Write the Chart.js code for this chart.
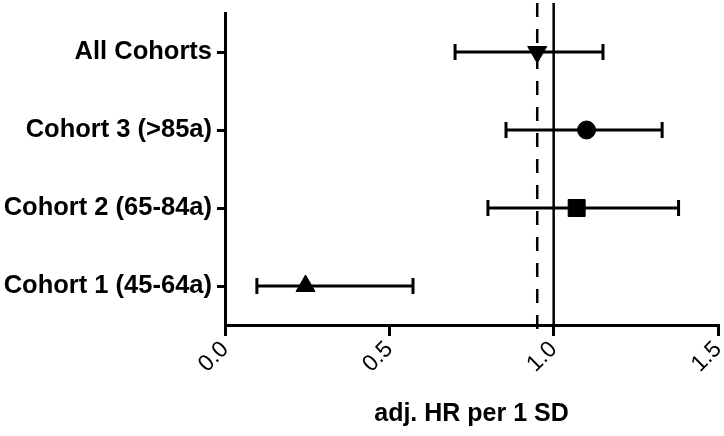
<!DOCTYPE html>
<html>
<head>
<meta charset="utf-8">
<script src="https://cdn.jsdelivr.net/npm/chart.js@4/dist/chart.umd.min.js"></script>
<style>
  html, body { margin: 0; padding: 0; background: #fff; }
  #wrap { width: 724px; height: 436px; position: relative; }
</style>
</head>
<body>
<div id="wrap"><canvas id="c" width="724" height="436"></canvas></div>
<script>
// Categories, top to bottom
const categories = ['All Cohorts', 'Cohort 3 (>85a)', 'Cohort 2 (65-84a)', 'Cohort 1 (45-64a)'];
// Hazard ratio point estimates and 95% CI bounds
const hrEstimate = [0.95, 1.10, 1.07, 0.245];
const ciLower    = [0.70, 0.855, 0.80, 0.097];
const ciUpper    = [1.15, 1.33, 1.38, 0.572];
const markerStyles = ['triangle', 'circle', 'rect', 'triangle'];
const markerRotation = [180, 0, 0, 0];
const xTicks = [0, 0.5, 1.0, 1.5];
const referenceLines = [{ value: 1.0, dashed: false }, { value: 0.95, dashed: true }];
const xTitle = 'adj. HR per 1 SD';

const yPos = categories.map((_, i) => categories.length - 1 - i);

const errorSets = categories.map((c, i) => ({
  type: 'line',
  data: [{ x: ciLower[i], y: yPos[i] }, { x: ciUpper[i], y: yPos[i] }],
  borderColor: '#000',
  borderWidth: 3,
  pointStyle: 'line',
  rotation: 90,
  pointRadius: 8,
  pointBorderWidth: 3,
  pointBorderColor: '#000',
  fill: false,
  clip: false,
  order: 2
}));

const markerSet = {
  type: 'scatter',
  data: categories.map((c, i) => ({ x: hrEstimate[i], y: yPos[i] })),
  pointStyle: markerStyles,
  rotation: markerRotation,
  pointRadius: [11, 9, 12, 11],
  backgroundColor: '#000',
  borderColor: '#000',
  borderWidth: 1,
  clip: false,
  order: 1
};

const refLinePlugin = {
  id: 'refLines',
  beforeDatasetsDraw(chart) {
    const ctx = chart.ctx;
    const xs = chart.scales.x;
    const area = chart.chartArea;
    ctx.save();
    ctx.strokeStyle = '#000';
    ctx.lineWidth = 2.5;
    referenceLines.forEach(r => {
      const px = xs.getPixelForValue(r.value);
      ctx.setLineDash(r.dashed ? [14, 12] : []);
      ctx.beginPath();
      ctx.moveTo(px, area.top - 10);
      ctx.lineTo(px, r.dashed ? area.bottom + 6 : area.bottom);
      ctx.stroke();
    });
    ctx.restore();
  }
};

const FONT = 'Liberation Sans, Arial, sans-serif';

new Chart(document.getElementById('c'), {
  data: { datasets: [markerSet, ...errorSets] },
  options: {
    responsive: false,
    animation: false,
    events: [],
    layout: { autoPadding: false, padding: { left: 0, right: 6, top: 13, bottom: 0 } },
    plugins: { legend: { display: false }, tooltip: { enabled: false } },
    scales: {
      x: {
        type: 'linear',
        min: 0,
        max: 1.5,
        afterBuildTicks: s => { s.ticks = xTicks.map(v => ({ value: v })); },
        afterFit: s => { s.height = 111; s.paddingLeft = 0; s.paddingRight = 0; },
        border: { color: '#000', width: 3 },
        grid: { drawOnChartArea: false, drawTicks: true, tickLength: 11, color: '#000', lineWidth: 3 },
        ticks: {
          autoSkip: false,
          minRotation: 45,
          maxRotation: 45,
          padding: 0,
          color: '#000',
          font: { family: FONT, size: 23 },
          callback: v => Number(v).toFixed(1)
        },
        title: {
          display: true,
          text: xTitle,
          color: '#000',
          font: { family: FONT, size: 25, weight: 'bold' },
          padding: { top: 0, bottom: 7 }
        }
      },
      y: {
        type: 'linear',
        min: -0.5,
        max: 3.5,
        afterBuildTicks: s => { s.ticks = yPos.map(v => ({ value: v })); },
        afterFit: s => { s.width = 225; s.paddingTop = 0; s.paddingBottom = 0; },
        border: { color: '#000', width: 3 },
        grid: { drawOnChartArea: false, drawTicks: true, tickLength: 8, color: '#000', lineWidth: 3 },
        ticks: {
          autoSkip: false,
          padding: 5,
          color: '#000',
          font: { family: FONT, size: 25.5, weight: 'bold' },
          callback: v => categories[categories.length - 1 - v]
        }
      }
    }
  },
  plugins: [refLinePlugin]
});
</script>
</body>
</html>
